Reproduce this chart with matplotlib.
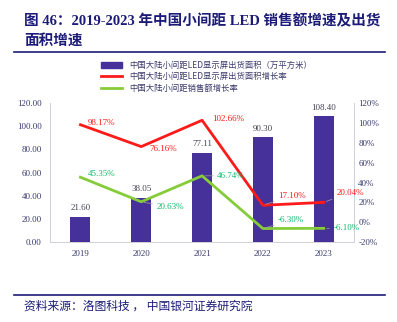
import matplotlib.pyplot as plt
from matplotlib.lines import Line2D
from matplotlib.patches import Patch

plt.rcParams['font.family'] = ['Liberation Serif', 'Noto Sans CJK SC', 'DejaVu Sans']

years = ['2019', '2020', '2021', '2022', '2023']
area = [21.60, 38.05, 77.11, 90.30, 108.40]
area_growth = [98.17, 76.16, 102.66, 17.10, 20.04]
sales_growth = [45.35, 20.63, 46.74, -6.30, -6.10]

bar_c = '#46309a'
red_c = '#ff1a1a'
green_c = '#86cc3a'
green_txt = '#10b86a'
tick_c = '#3a3a6e'
navy = '#1c1c78'

fig = plt.figure(figsize=(3.97, 3.22), dpi=100)
ax = fig.add_axes([0.126, 0.248, 0.766, 0.432])
x = list(range(len(years)))
ax.bar(x, area, width=0.33, color=bar_c, zorder=2)
for xi, v in zip(x, area):
    ax.text(xi, v + 4, f'{v:.2f}', ha='center', va='bottom', fontsize=6.5, color='#444455')
ax.set_ylim(0, 120)
ax.set_yticks(range(0, 121, 20))
ax.set_yticklabels([f'{v:.2f}' for v in range(0, 121, 20)])
ax.set_xlim(-0.5, 4.5)
ax.set_xticks(x)
ax.set_xticklabels(years)
ax.tick_params(length=0, labelsize=6.5, colors=tick_c, pad=6)

ax2 = ax.twinx()
ax2.plot(x, area_growth, color=red_c, lw=2, zorder=3)
ax2.plot(x, sales_growth, color=green_c, lw=2, zorder=3)
ax2.set_ylim(-20, 120)
ax2.set_yticks(range(-20, 121, 20))
ax2.set_yticklabels([f'{v}%' for v in range(-20, 121, 20)])
ax2.tick_params(length=0, labelsize=6.5, colors=tick_c, pad=3)

for a in (ax, ax2):
    a.spines['top'].set_visible(False)
    for s in ['left', 'right', 'bottom']:
        a.spines[s].set_color('#d0d0d8')
        a.spines[s].set_linewidth(0.6)

# line labels: (dx, dy) in points, leader line flag
red_off = [(5, 1, False), (6, -2, False), (7, 1, False), (11, 7, True), (9, 7, True)]
green_off = [(5, 2, False), (11, -4, True), (11, 0, True), (11, 6, True), (7, 0, True)]
for vals, offs, col in ((area_growth, red_off, red_c), (sales_growth, green_off, green_txt)):
    for xi, v, (dx, dy, lead) in zip(x, vals, offs):
        ax2.annotate(f'{v:.2f}%', (xi, v), xytext=(dx, dy), textcoords='offset points',
                     fontsize=6.5, color=col, va='center', ha='left',
                     arrowprops=dict(arrowstyle='-', color='#a0a0a0', lw=0.5,
                                     shrinkA=1, shrinkB=2) if lead else None)

handles = [Patch(color=bar_c), Line2D([], [], color=red_c, lw=2), Line2D([], [], color=green_c, lw=2)]
labels = ['中国大陆小间距LED显示屏出货面积（万平方米）', '中国大陆小间距LED显示屏出货面积增长率', '中国大陆小间距销售额增长率']
fig.legend(handles, labels, loc='upper left', bbox_to_anchor=(0.245, 0.825), frameon=False,
           labelcolor=tick_c, handlelength=2.5, labelspacing=0.3, borderpad=0,
           prop={'family': ['Noto Sans CJK SC'], 'size': 6})

fig.text(0.06, 0.905, '图 46：2019-2023 年中国小间距 LED 销售额增速及出货\n面积增速', fontsize=10.5,
         fontweight='bold', color=navy, va='center', ha='left', linespacing=1.55,
         family=['Liberation Serif', 'Noto Sans CJK SC'])
fig.add_artist(Line2D([0.035, 0.97], [0.838, 0.838], color=navy, lw=1.2))
fig.add_artist(Line2D([0.035, 0.97], [0.085, 0.085], color=navy, lw=1.2))
fig.text(0.06, 0.048, '资料来源：洛图科技 ， 中国银河证券研究院', fontsize=8.5,
         color=navy, va='center', ha='left', family=['Noto Sans CJK SC'])

fig.savefig('out.png', dpi=100)
